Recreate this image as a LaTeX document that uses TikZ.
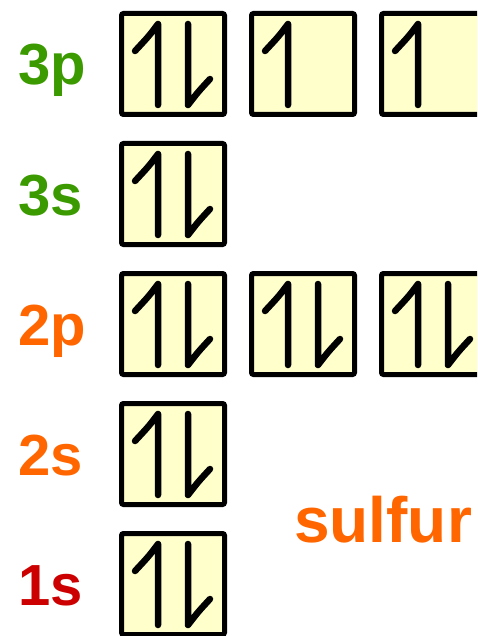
\documentclass[tikz,border=0pt]{standalone}
\usepackage{fontspec}
\setmainfont{Liberation Sans}
\definecolor{boxfill}{HTML}{FFFFCC}
\definecolor{shellthree}{HTML}{3A9A00}
\definecolor{shelltwo}{HTML}{FF6600}
\definecolor{shellone}{HTML}{CC0000}
\newcommand\spinup[1]{\draw[spin, shift={(#1.center)}] (-15,41) -- (-15,-40) .. controls (-24,-28) .. (-38,-13);}
\newcommand\spindown[1]{\draw[spin, shift={(#1.center)}] (15,-40) -- (15,41) .. controls (25,28) .. (37,15);}

\begin{document}
\begin{tikzpicture}[x=1pt, y=-1pt,
  orb/.style={draw, line width=5pt, fill=boxfill, rounded corners=2pt,
    minimum width=103pt, minimum height=101pt, inner sep=0pt},
  spin/.style={line width=6.5pt, line cap=round, line join=round},
  lbl/.style={anchor=base west, inner sep=0pt,
    font=\fontsize{58}{58}\selectfont\bfseries}]
  \useasboundingbox (0,0) rectangle (477,636);
  \clip (0,0) rectangle (477,636);
  % boxes
  \node[orb] (p3a) at (173,64) {};  \node[orb] (p3b) at (303,64) {};  \node[orb] (p3c) at (433,64) {};
  \node[orb] (s3)  at (173,194) {};
  \node[orb] (p2a) at (173,324) {}; \node[orb] (p2b) at (303,324) {}; \node[orb] (p2c) at (433,324) {};
  \node[orb] (s2)  at (173,454) {};
  \node[orb] (s1)  at (173,584) {};
  % electrons
  \spinup{p3a} \spindown{p3a}
  \spinup{p3b}
  \spinup{p3c}
  \spinup{s3} \spindown{s3}
  \spinup{p2a} \spindown{p2a}
  \spinup{p2b} \spindown{p2b}
  \spinup{p2c} \spindown{p2c}
  \spinup{s2} \spindown{s2}
  \spinup{s1} \spindown{s1}
  % labels
  \node[lbl, text=shellthree] (l3p) at (18,85) {3p};
  \node[lbl, text=shellthree] (l3s) at (18,215) {3s};
  \node[lbl, text=shelltwo]   (l2p) at (18,345) {2p};
  \node[lbl, text=shelltwo]   (l2s) at (18,475) {2s};
  \node[lbl, text=shellone]   (l1s) at (18,605) {1s};
  \node[lbl, text=shelltwo, font=\fontsize{64}{64}\selectfont\bfseries] (name) at (294,542) {sulfur};
\end{tikzpicture}
\end{document}
